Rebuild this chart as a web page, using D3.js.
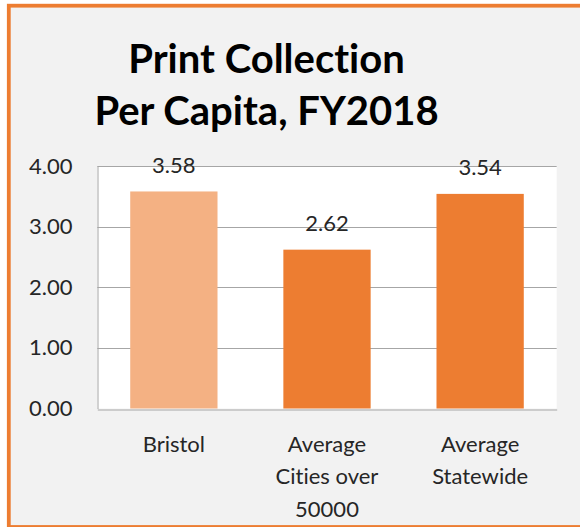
<!DOCTYPE html>
<html>
<head>
<meta charset="utf-8">
<script src="https://cdn.jsdelivr.net/npm/d3@7"></script>
<style>
  html, body { margin: 0; padding: 0; background: #ffffff; }
  svg { display: block; }
  text { font-variant-ligatures: none; font-feature-settings: "liga" 0, "clig" 0; }
</style>
</head>
<body>
<svg id="chart" width="580" height="527"></svg>
<script>
// ---- data ----
const categories = ["Bristol", "Average Cities over 50000", "Average Statewide"];
const categoryLabelLines = [["Bristol"], ["Average", "Cities over", "50000"], ["Average", "Statewide"]];
const values = [3.58, 2.62, 3.54];
const valueLabels = ["3.58", "2.62", "3.54"];
const yTicks = [0, 1, 2, 3, 4];
const yTickLabels = ["0.00", "1.00", "2.00", "3.00", "4.00"];
const titleLines = ["Print Collection", "Per Capita, FY2018"];

// ---- styles ----
const highlightColor = "#F4B183";
const baseColor = "#ED7D31";
const fontFamily = "Lato, 'Open Sans', 'DejaVu Sans', sans-serif";
const labelSize = 22;

const svg = d3.select("#chart");

// frame
svg.append("rect")
  .attr("x", 8.8).attr("y", 5.7)
  .attr("width", 620).attr("height", 521.3)
  .attr("fill", "#F2F2F2")
  .attr("stroke", "#ED7D31")
  .attr("stroke-width", 3.8);

const plot = { left: 97.3, right: 556.7, top: 166, bottom: 408.5 };

const x = d3.scaleBand()
  .domain(categories)
  .range([plot.left, plot.right])
  .paddingInner(0.43)
  .paddingOuter(0.215);

const y = d3.scaleLinear()
  .domain([0, 4])
  .range([plot.bottom, plot.top]);

// plot area background
svg.append("rect")
  .attr("x", plot.left).attr("y", plot.top)
  .attr("width", plot.right - plot.left)
  .attr("height", plot.bottom - plot.top)
  .attr("fill", "#ffffff");

// gridlines
svg.append("g")
  .selectAll("line")
  .data(yTicks.filter(d => d > 0))
  .join("line")
  .attr("x1", plot.left).attr("x2", plot.right)
  .attr("y1", d => Math.round(y(d)) + 0.5)
  .attr("y2", d => Math.round(y(d)) + 0.5)
  .attr("stroke", "#A6A6A6")
  .attr("stroke-width", 1);

// y axis
const yAxis = d3.axisLeft(y)
  .tickValues(yTicks)
  .tickFormat((d, i) => yTickLabels[i])
  .tickSize(0)
  .tickPadding(25);
const yg = svg.append("g")
  .attr("transform", `translate(${Math.round(plot.left) + 0.5},0)`)
  .call(yAxis);
yg.select(".domain").attr("stroke", "#A6A6A6");
yg.selectAll("text")
  .attr("font-family", fontFamily)
  .attr("font-size", labelSize)
  .attr("fill", "#262626");

// bars
svg.append("g")
  .selectAll("rect")
  .data(values)
  .join("rect")
  .attr("x", (d, i) => x(categories[i]))
  .attr("y", d => y(d))
  .attr("width", x.bandwidth())
  .attr("height", d => y(0) - y(d))
  .attr("fill", (d, i) => i === 0 ? highlightColor : baseColor);

// bottom axis
const xAxis = d3.axisBottom(x).tickSize(0).tickFormat("");
const xg = svg.append("g")
  .attr("transform", `translate(0,${Math.round(plot.bottom) + 0.5})`)
  .call(xAxis);
xg.select(".domain").attr("stroke", "#A6A6A6");

// category labels
const catG = svg.append("g");
categories.forEach((c, i) => {
  const cx = x(c) + x.bandwidth() / 2;
  const t = catG.append("text")
    .attr("text-anchor", "middle")
    .attr("font-family", fontFamily)
    .attr("font-size", labelSize)
    .attr("fill", "#262626");
  categoryLabelLines[i].forEach((line, j) => {
    t.append("tspan").attr("x", cx).attr("y", 451.7 + j * 32.5).text(line);
  });
});

// value labels
svg.append("g")
  .selectAll("text")
  .data(values)
  .join("text")
  .attr("x", (d, i) => x(categories[i]) + x.bandwidth() / 2)
  .attr("y", d => y(d) - 18.5)
  .attr("text-anchor", "middle")
  .attr("font-family", fontFamily)
  .attr("font-size", labelSize)
  .attr("fill", "#262626")
  .text((d, i) => valueLabels[i]);

// title
const title = svg.append("text")
  .attr("text-anchor", "middle")
  .attr("font-family", fontFamily)
  .attr("font-weight", "bold")
  .attr("font-size", 40)
  .attr("fill", "#000000");
titleLines.forEach((line, j) => {
  title.append("tspan").attr("x", 266.5).attr("y", 72.5 + j * 52.5).text(line);
});
</script>
</body>
</html>
